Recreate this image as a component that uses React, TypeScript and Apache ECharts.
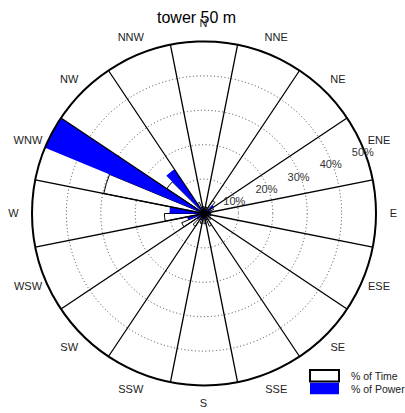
import React, { useEffect, useRef } from "react";
import * as echarts from "echarts";

const directions = ["N", "NNE", "NE", "ENE", "E", "ESE", "SE", "SSE", "S", "SSW", "SW", "WSW", "W", "WNW", "NW", "NNW"];
const timePct = [2, 2, 4.5, 3, 2, 2, 2.5, 4, 3, 3, 4.5, 7, 11.5, 29.7, 13, 3.5];
const powerPct = [0.8, 1, 3.5, 2, 1.5, 1.5, 1, 1.5, 1.5, 1.5, 2.5, 5, 10, 50, 15.5, 2];
const ringTicks = [10, 20, 30, 40, 50];
const titleText = "tower 50 m";
const seriesNames = ["% of Time", "% of Power"];

const FONT = "'Liberation Sans', Arial, sans-serif";
const CENTER = [204, 213.5];
const RADIUS = 172;
const RMAX = 50;

export default function App() {
  const ref = useRef<HTMLDivElement>(null);
  useEffect(() => {
    if (!ref.current) return;
    const chart = echarts.init(ref.current, undefined, { renderer: "svg" });

    const cats: string[] = [];
    const timeData: any[] = [];
    const powerData: any[] = [];
    directions.forEach((d, i) => {
      cats.push(d + "-t");
      cats.push(d + "-p");
      timeData.push(timePct[i]);
      timeData.push("-");
      powerData.push("-");
      powerData.push(powerPct[i]);
    });

    const step = 360 / directions.length;
    const dirLabelData = directions.map((d, i) => ({ value: [RMAX * 190 / RADIUS, i * step], name: d }));
    const ringLabelData = ringTicks.map((v) => ({ value: [v - 0.4, 69], name: v + "%" }));

    const hiddenAxis = {
      axisLine: { show: false },
      axisTick: { show: false },
      axisLabel: { show: false },
      splitLine: { show: false },
      splitArea: { show: false },
    };

    const labelSeries = (data: any[], color: string) => ({
      type: "scatter",
      coordinateSystem: "polar",
      polarIndex: 2,
      clip: false,
      color,
      symbol: "circle",
      symbolSize: 1,
      itemStyle: { color: "rgba(255,255,255,0)" },
      silent: true,
      z: 10,
      data,
      label: {
        show: true,
        position: [0, 0],
        align: "center",
        verticalAlign: "middle",
        formatter: (p: any) => p.name,
        fontSize: 11,
        color,
        opacity: 1,
        textBorderWidth: 0,
        fontFamily: FONT,
      },
    });

    chart.setOption({
      animation: false,
      textStyle: { fontFamily: FONT },
      title: {
        text: titleText,
        left: 157,
        top: 9,
        padding: 0,
        textStyle: { fontSize: 16, fontWeight: "normal", color: "#000", fontFamily: FONT },
      },
      legend: {
        data: seriesNames,
        orient: "vertical",
        left: 304,
        top: 364,
        itemWidth: 29,
        itemHeight: 11.5,
        itemGap: 0,
        icon: "rect",
        textStyle: { fontSize: 10.5, color: "#222", lineHeight: 12, padding: [0, 0, 0, 7], fontFamily: FONT },
      },
      polar: [
        { center: CENTER, radius: RADIUS },
        { center: CENTER, radius: RADIUS },
        { center: CENTER, radius: RADIUS },
      ],
      angleAxis: [
        {
          polarIndex: 0,
          type: "category",
          data: cats,
          startAngle: 90 + step / 2,
          clockwise: true,
          boundaryGap: true,
          ...hiddenAxis,
        },
        {
          polarIndex: 1,
          type: "value",
          min: 0,
          max: 360,
          interval: step,
          startAngle: 90 + step / 2,
          clockwise: true,
          z: 5,
          axisLine: { show: true, lineStyle: { color: "#000", width: 2 } },
          axisTick: { show: false },
          axisLabel: { show: false },
          splitLine: { show: true, lineStyle: { color: "#000", width: 1.3 } },
          splitArea: { show: false },
        },
        {
          polarIndex: 2,
          type: "value",
          min: 0,
          max: 360,
          startAngle: 90,
          clockwise: true,
          ...hiddenAxis,
        },
      ],
      radiusAxis: [
        { polarIndex: 0, type: "value", min: 0, max: RMAX, ...hiddenAxis },
        {
          polarIndex: 1,
          type: "value",
          min: 0,
          max: RMAX,
          interval: 10,
          z: 0,
          axisLine: { show: false },
          axisTick: { show: false },
          axisLabel: { show: false },
          splitLine: { show: true, lineStyle: { color: "#444", width: 1, type: [1, 2.5] } },
          splitArea: { show: false },
        },
        { polarIndex: 2, type: "value", min: 0, max: RMAX, ...hiddenAxis },
      ],
      series: [
        {
          name: seriesNames[0],
          type: "bar",
          coordinateSystem: "polar",
          polarIndex: 0,
          stack: "rose",
          data: timeData,
          barCategoryGap: "0%",
          z: 2,
          itemStyle: { color: "#fff", borderColor: "#000", borderWidth: 1 },
        },
        {
          name: seriesNames[1],
          type: "bar",
          coordinateSystem: "polar",
          polarIndex: 0,
          stack: "rose",
          data: powerData,
          barCategoryGap: "0%",
          z: 3,
          itemStyle: { color: "#0000ff", borderWidth: 0 },
        },
        labelSeries(dirLabelData, "#222"),
        labelSeries(ringLabelData, "#333"),
      ],
    });
    return () => chart.dispose();
  }, []);
  return <div ref={ref} style={{ position: "absolute", left: 0, top: 0, width: 405, height: 413, background: "#fff" }} />;
}
